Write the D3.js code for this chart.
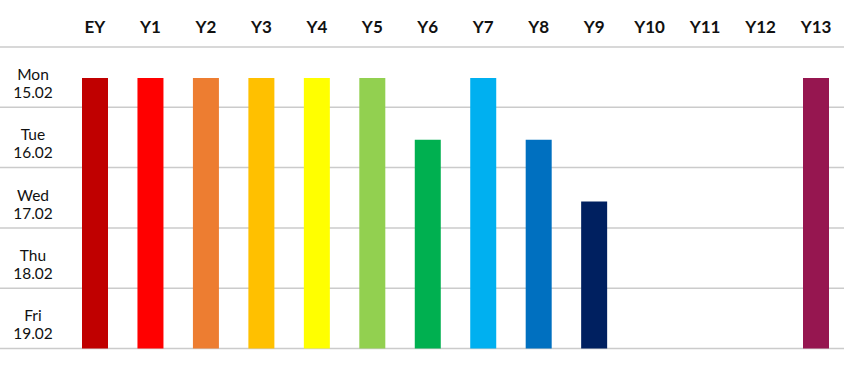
<!DOCTYPE html>
<html>
<head>
<meta charset="utf-8">
<script src="https://cdn.jsdelivr.net/npm/d3@7"></script>
<style>
  body { margin: 0; background: #fff; }
  text { font-family: Lato, "Open Sans", sans-serif; fill: #111; }
</style>
</head>
<body>
<div class="graph"></div>
<script>
var width = 844;
var height = 372;

// year groups and the day each one starts back (0 = Mon ... 4 = Fri), null = not back this week
var groups = ["EY", "Y1", "Y2", "Y3", "Y4", "Y5", "Y6", "Y7", "Y8", "Y9", "Y10", "Y11", "Y12", "Y13"];
var startDay = [0, 0, 0, 0, 0, 0, 1, 0, 1, 2, null, null, null, 0];
var colours = ["#c00000", "#ff0000", "#ed7d31", "#ffc000", "#ffff00", "#92d050", "#00b050",
               "#00b0f0", "#0070c0", "#002060", "#7f7f7f", "#7f7f7f", "#7f7f7f", "#961650"];
var dayNames = ["Mon", "Tue", "Wed", "Thu", "Fri"];
var dayDates = ["15.02", "16.02", "17.02", "18.02", "19.02"];

var svg = d3.select(".graph").append("svg")
  .attr("width", width)
  .attr("height", height);

var x = d3.scalePoint()
  .domain(groups)
  .range([95, 816]);

var rows = d3.scaleBand()
  .domain(d3.range(dayNames.length))
  .range([47, 348.5]);

// where a bar starts for a given day
var y = d3.scaleLinear()
  .domain([0, 4])
  .range([78, 325]);

var barWidth = 26;

// grid lines
var gridYs = rows.domain().map(d => rows(d)).concat([rows.range()[1]]);
svg.append("g")
  .selectAll("line")
  .data(gridYs)
  .join("line")
  .attr("x1", 0)
  .attr("x2", width)
  .attr("y1", d => d)
  .attr("y2", d => d)
  .attr("stroke", "#cbcbcb")
  .attr("stroke-width", 1.5);

// bars
var bars = groups.map((g, i) => ({group: g, start: startDay[i], colour: colours[i]}))
  .filter(d => d.start !== null);

svg.append("g")
  .selectAll("rect")
  .data(bars)
  .join("rect")
  .attr("x", d => x(d.group) - barWidth / 2)
  .attr("y", d => y(d.start))
  .attr("width", barWidth)
  .attr("height", d => rows.range()[1] - y(d.start))
  .attr("fill", d => d.colour);

// column headers
svg.append("g")
  .selectAll("text")
  .data(groups)
  .join("text")
  .attr("x", d => x(d))
  .attr("y", 33)
  .attr("text-anchor", "middle")
  .style("font-weight", "bold")
  .style("font-size", "17px")
  .text(d => d);

// row labels
var rowLabels = svg.append("g")
  .selectAll("text")
  .data(rows.domain())
  .join("text")
  .attr("text-anchor", "middle")
  .style("font-size", "15.5px");

rowLabels.append("tspan")
  .attr("x", 33)
  .attr("y", d => rows(d) + rows.bandwidth() / 2 + 3)
  .text(d => dayNames[d]);

rowLabels.append("tspan")
  .attr("x", 33)
  .attr("y", d => rows(d) + rows.bandwidth() / 2 + 21)
  .text(d => dayDates[d]);
</script>
</body>
</html>
